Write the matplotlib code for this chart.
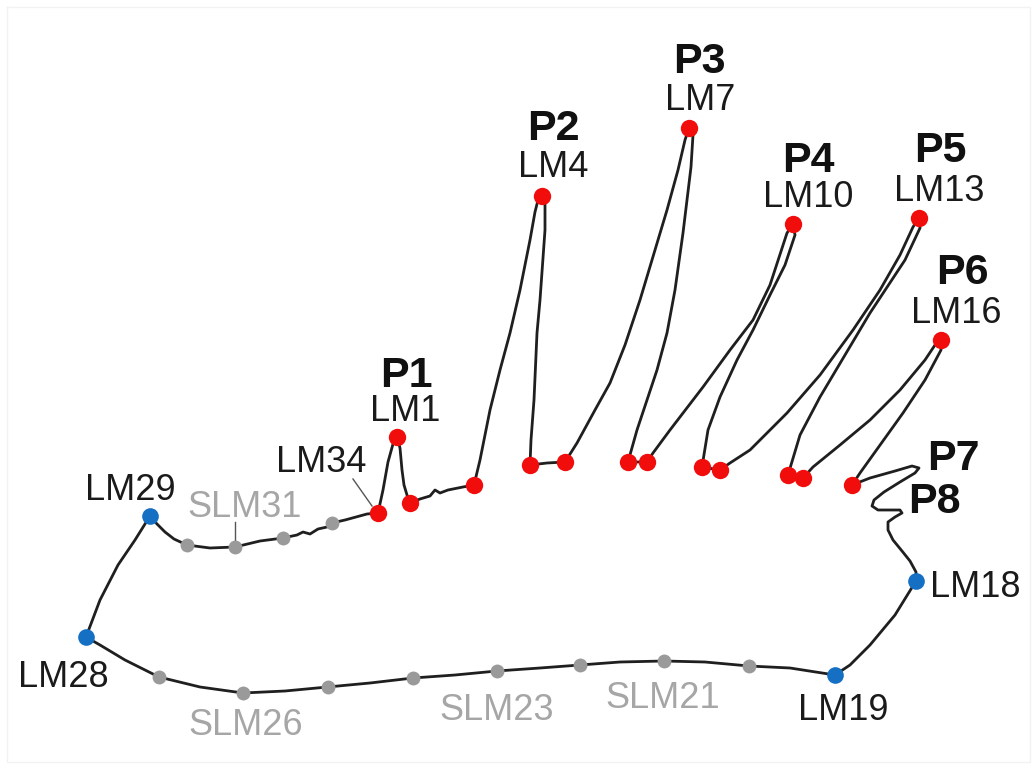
import matplotlib.pyplot as plt

# leaf outline traced clockwise from LM28 (image pixel coords, y down)
outline_x = [86, 100, 118, 135, 150, 157, 165, 174, 187, 210, 235, 260, 283, 297, 303, 310, 318, 327, 332, 345, 367, 378,
             383, 388, 393, 397, 400, 402, 404, 407, 410, 420, 430, 435, 440, 448, 463, 474,
             480, 490, 500, 510, 520, 530, 535, 538, 542, 545, 545, 540, 537, 534, 531, 530, 547, 565,
             577, 595, 610, 625, 640, 655, 667, 678, 685, 689, 693, 691, 683, 675, 667, 657, 647, 637, 628, 647,
             653, 670, 703, 730, 753, 770, 787, 793, 795, 785, 770, 753, 737, 720, 708, 702, 720,
             730, 750, 787, 820, 853, 880, 900, 913, 919, 920, 905, 870, 845, 820, 800, 788, 803,
             813, 840, 870, 900, 925, 935, 941, 941, 925, 903, 880, 860, 852,
             870, 895, 912, 919, 915, 900, 884, 874, 872, 878, 890, 900, 902, 895, 888, 888, 893, 902, 910, 916, 916,
             895, 870, 850, 835,
             790, 749, 705, 664, 620, 580, 540, 497, 455, 413, 370, 328, 285, 243, 200, 159, 125, 100, 86]
outline_y = [637, 600, 565, 540, 516, 524, 532, 539, 545, 548, 547, 541, 538, 535, 532, 534, 529, 527, 523, 520, 514, 513,
             490, 462, 444, 437, 448, 470, 485, 495, 503, 499, 496, 490, 493, 490, 487, 485,
             460, 410, 370, 333, 290, 240, 212, 200, 196, 203, 230, 300, 333, 400, 440, 465, 463, 462,
             443, 410, 383, 345, 300, 250, 210, 170, 140, 128, 135, 167, 233, 290, 333, 370, 400, 430, 462, 462,
             453, 430, 387, 350, 320, 285, 233, 224, 235, 265, 295, 330, 360, 397, 430, 467, 470,
             463, 450, 413, 375, 330, 290, 255, 227, 218, 228, 260, 313, 355, 397, 435, 475, 478,
             467, 445, 420, 390, 360, 345, 340, 350, 380, 413, 445, 473, 485,
             478, 471, 466, 468, 473, 482, 492, 500, 506, 510, 510, 510, 513, 517, 522, 530, 540, 551, 561, 572, 581,
             615, 645, 665, 675,
             668, 666, 662, 661, 662, 665, 668, 671, 675, 678, 683, 687, 691, 693, 687, 677, 660, 645, 637]

# landmarks
red_x = [378, 397, 410, 474, 542, 530, 565, 689, 628, 647, 793, 702, 720, 919, 788, 803, 941, 852]
red_y = [513, 437, 503, 485, 196, 465, 462, 128, 462, 462, 224, 467, 470, 218, 475, 478, 340, 485]
blue_x = [150, 86, 835, 916]
blue_y = [516, 637, 675, 581]
# semi-landmarks
gray_x = [187, 235, 283, 332, 159, 243, 328, 413, 497, 580, 664, 749]
gray_y = [545, 547, 538, 523, 677, 693, 687, 678, 671, 665, 661, 666]

# petiole labels (bold) and landmark labels, x centre / baseline y
p_labels = ['P1', 'P2', 'P3', 'P4', 'P5', 'P6', 'P7', 'P8']
p_x = [406, 553, 699, 808, 940, 962, 953, 934]
p_y = [387, 140, 73, 172, 162, 284, 470, 513]
lm_labels = ['LM1', 'LM4', 'LM7', 'LM10', 'LM13', 'LM16', 'LM34', 'LM29', 'LM28', 'LM19', 'LM18']
lm_x = [405, 553, 700, 808, 939, 956, 321, 130, 63, 843, 975]
lm_y = [421, 177, 110, 207, 201, 323, 472, 500, 687, 720, 597]
slm_labels = ['SLM31', 'SLM26', 'SLM23', 'SLM21']
slm_x = [245, 246, 497, 663]
slm_y = [517, 735, 720, 708]

plt.rcParams['font.family'] = ['Liberation Sans', 'DejaVu Sans']

fig = plt.figure(figsize=(10.36, 7.69), dpi=100)
ax = fig.add_axes([0, 0, 1, 1])
ax.set_xlim(0, 1036)
ax.set_ylim(769, 0)
ax.axis('off')

# faint frame
ax.plot([7, 1030, 1030, 7, 7], [7, 7, 762, 762, 7], color='#f2f2f2', lw=1, zorder=0)

ax.plot(outline_x, outline_y, color='#1f1f1f', lw=2.0, solid_joinstyle='round', zorder=2)

# pointer ticks for LM34 and SLM31
ax.plot([353, 372], [479, 506], color='#555555', lw=1.0, zorder=1)
ax.plot([235, 235], [522, 547], color='#555555', lw=1.0, zorder=1)

ax.plot(gray_x, gray_y, 'o', color='#9a9a9a', ms=10, mec='none', zorder=3)
ax.plot(blue_x, blue_y, 'o', color='#1570c4', ms=12, mec='none', zorder=3)
ax.plot(red_x, red_y, 'o', color='#f20d0d', ms=12.5, mec='none', zorder=3)

for t, x, y in zip(p_labels, p_x, p_y):
    ax.text(x, y, t, fontsize=31, fontweight='bold', color='#111111', ha='center', va='baseline')
for t, x, y in zip(lm_labels, lm_x, lm_y):
    ax.text(x, y, t, fontsize=26, color='#1a1a1a', ha='center', va='baseline')
for t, x, y in zip(slm_labels, slm_x, slm_y):
    ax.text(x, y, t, fontsize=26, color='#a6a6a6', ha='center', va='baseline')

fig.savefig('out.png', dpi=100)
